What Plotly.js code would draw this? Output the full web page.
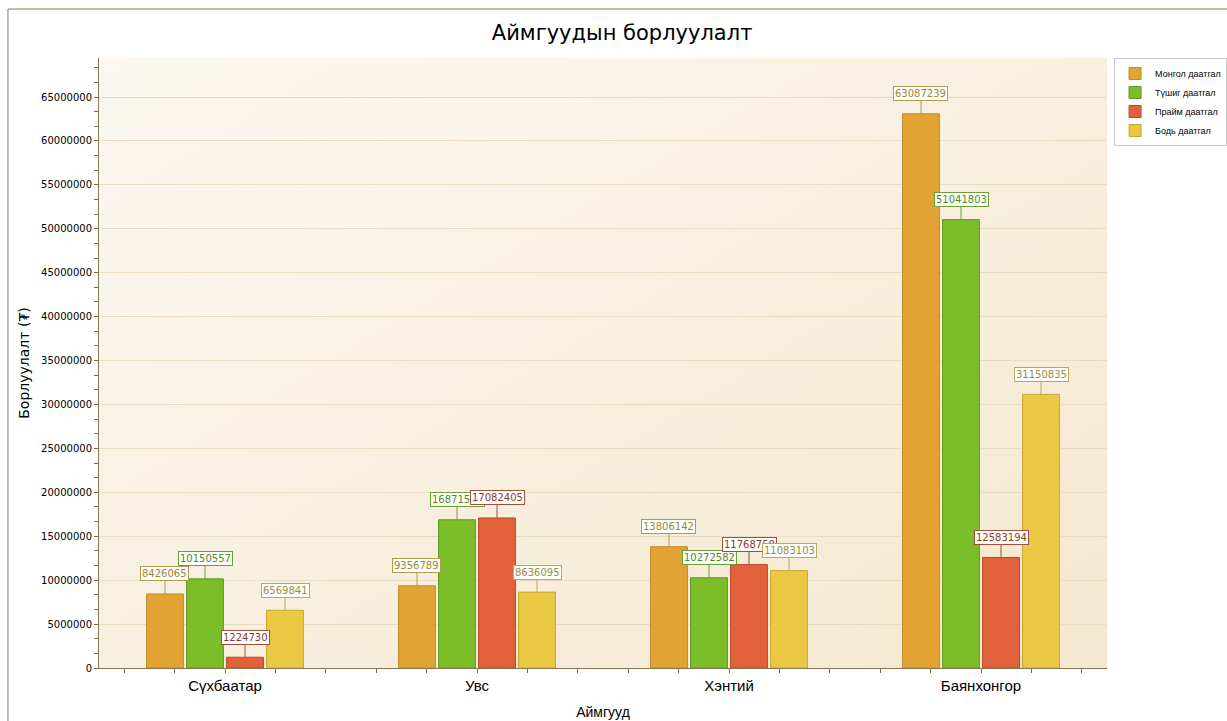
<!DOCTYPE html>
<html>
<head>
<meta charset="utf-8">
<script src="https://cdn.plot.ly/plotly-3.0.1.min.js"></script>
<style>html,body{margin:0;padding:0;background:#fff;}#chart{width:1227px;height:721px;}</style>
</head>
<body>
<div id="chart"></div>
<script>
const categories = ["Сүхбаатар", "Увс", "Хэнтий", "Баянхонгор"];
const seriesNames = ["Монгол даатгал", "Түшиг даатгал", "Прайм даатгал", "Бодь даатгал"];
const mongol = [8426065, 9356789, 13806142, 63087239];
const tushig = [10150557, 16871531, 10272582, 51041803];
const praim = [1224730, 17082405, 11768750, 12583194];
const bod = [6569841, 8636095, 11083103, 31150835];
const yTickStep = 5000000;

const seriesValues = [mongol, tushig, praim, bod];
const fillColors = ["#e2a334", "#7cbd2a", "#e1623a", "#ebc843"];
const lineColors = ["#c08a24", "#5e9a1c", "#b84a26", "#c8a630"];
const labelText = ["#9a8636", "#4f8a26", "#8a3a2e", "#988c46"];
const labelBorder = ["#b09a50", "#6aa03c", "#a0503c", "#b4aa64"];

const bargap = 0.365, bargroupgap = 0.08;
const xs = categories.map((c, i) => i);

const traces = seriesValues.map((vals, j) => ({
  type: "bar",
  name: seriesNames[j],
  x: xs,
  y: vals,
  marker: {color: fillColors[j], line: {color: lineColors[j], width: 1}},
  hoverinfo: "skip"
}));

const nSeries = seriesValues.length;
const slot = (1 - bargap) / nSeries;
const annotations = [];
seriesValues.forEach((vals, j) => {
  vals.forEach((v, i) => {
    annotations.push({
      x: xs[i] + (j - (nSeries - 1) / 2) * slot,
      y: v, xref: "x", yref: "y",
      text: String(v),
      showarrow: true, arrowhead: 0, arrowwidth: 1, arrowcolor: labelBorder[j],
      ax: 0, ay: -20,
      font: {family: "DejaVu Sans", size: 10, color: labelText[j]},
      bgcolor: "#fffffb", bordercolor: labelBorder[j], borderwidth: 1, borderpad: 1
    });
  });
});

const gradSvg = "data:image/svg+xml;utf8," + encodeURIComponent(
  '<svg xmlns="http://www.w3.org/2000/svg" width="100" height="100" preserveAspectRatio="none">' +
  '<defs><linearGradient id="g" x1="0" y1="0" x2="1" y2="1">' +
  '<stop offset="0" stop-color="#fbf8f1"/><stop offset="1" stop-color="#f4e7cf"/></linearGradient></defs>' +
  '<rect width="100" height="100" fill="url(#g)"/></svg>');

const layout = {
  width: 1227, height: 721,
  margin: {l: 99, r: 120, t: 58, b: 53, autoexpand: false},
  paper_bgcolor: "#ffffff",
  plot_bgcolor: "#f8f0e2",
  barmode: "group",
  bargap: bargap,
  bargroupgap: bargroupgap,
  font: {family: "DejaVu Sans", color: "#000"},
  title: {text: "Аймгуудын борлуулалт", font: {family: "DejaVu Sans", size: 21, color: "#000"}, x: 0.507, xanchor: "center", y: 0.955, yanchor: "middle"},
  xaxis: {
    range: [-0.5, 3.5],
    tickmode: "array", tickvals: xs, ticktext: categories,
    tickfont: {size: 15, family: "Liberation Sans"},
    ticks: "outside", ticklen: 4, tickcolor: "#7a6a4a",
    minor: {dtick: 0.2, tick0: 0, ticks: "outside", ticklen: 4, tickcolor: "#7a6a4a", showgrid: false},
    showline: true, linecolor: "#8a7652", linewidth: 1,
    showgrid: false, zeroline: false,
    title: {text: "Аймгууд", font: {size: 14, family: "Liberation Sans"}, standoff: 14}
  },
  yaxis: {
    range: [0, 69440000],
    dtick: yTickStep, tick0: 0, tickformat: "d",
    tickfont: {size: 10, family: "DejaVu Sans"},
    ticks: "outside", ticklen: 4, tickcolor: "#7a6a4a",
    minor: {dtick: yTickStep / 3, ticks: "outside", ticklen: 4, tickcolor: "#7a6a4a", showgrid: false},
    showline: true, linecolor: "#8a7652", linewidth: 1,
    showgrid: true, gridcolor: "#e9dcc2", gridwidth: 1,
    zeroline: false,
    title: {text: "Борлуулалт (₮)", font: {size: 14}, standoff: 8}
  },
  legend: {
    x: 1.007, xanchor: "left", y: 1, yanchor: "top",
    bgcolor: "#ffffff", bordercolor: "#c8c8c8", borderwidth: 1,
    font: {size: 9, family: "Liberation Sans"},
    tracegroupgap: 1, itemwidth: 30
  },
  images: [{source: gradSvg, xref: "paper", yref: "paper", x: 0, y: 1, sizex: 1, sizey: 1, sizing: "stretch", layer: "below", xanchor: "left", yanchor: "top"}],
  shapes: [
    {type: "line", xref: "paper", yref: "paper", x0: -0.0903, x1: -0.0903, y0: 1.0803, y1: -0.2, line: {color: "#8b7a60", width: 1}},
    {type: "line", xref: "paper", yref: "paper", x0: -0.0903, x1: 1.2, y0: 1.0803, y1: 1.0803, line: {color: "#8b7a60", width: 1}}
  ],
  annotations: annotations
};

Plotly.newPlot("chart", traces, layout, {displayModeBar: false, staticPlot: true});
</script>
</body>
</html>
